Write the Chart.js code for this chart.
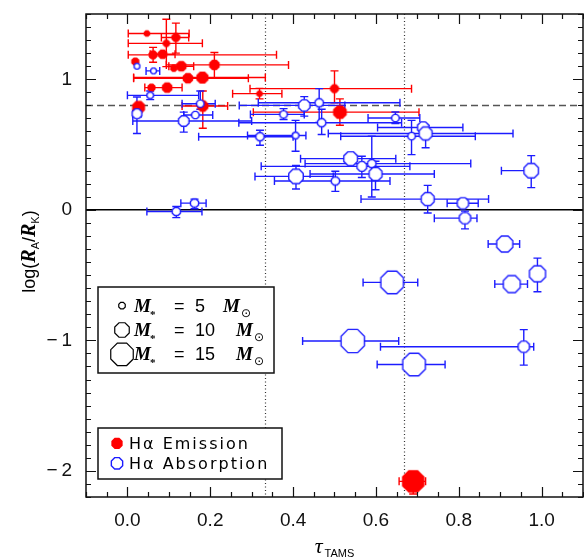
<!DOCTYPE html>
<html><head><meta charset="utf-8">
<script src="https://cdn.jsdelivr.net/npm/chart.js@4/dist/chart.umd.min.js"></script>
<style>html,body{margin:0;padding:0;background:#fff}#wrap{width:584px;height:558px}</style>
</head><body><div id="wrap"><canvas id="c" width="584" height="558"></canvas></div>
<script>
// ---- H-alpha emission stars ----
const emTau  = [0.047,0.117,0.094,0.062,0.085,0.019,0.112,0.130,0.210,0.146,0.181,0.058,0.096,0.027,0.182,0.319,0.500,0.513,0.690];
const emLogR = [1.351,1.320,1.275,1.187,1.192,1.136,1.085,1.100,1.110,1.008,1.013,0.936,0.936,0.785,0.795,0.890,0.928,0.748,-2.080];
const emMass = [5,6.5,5.5,6.5,7,6,5.5,7.5,7.5,7.5,8.5,6,7.5,9,8,5,6.5,9.5,15];
const emTauErrLo = [0.045,0.035,0.092,0.060,0.030,0,0,0.030,0.116,0.131,0.166,0,0.054,0,0.050,0.065,0.204,0.209,0.034];
const emTauErrHi = [0.102,0.031,0.087,0.298,0.030,0,0,0.030,0.179,0.146,0.152,0,0.036,0,0.060,0.054,0.186,0.191,0.030];
const emLogErrLo = [0,0.120,0.178,0.057,0,0,0,0,0.102,0,0,0,0,0,0.170,0.040,0.108,0.100,0.097];
const emLogErrHi = [0,0.110,0.185,0.057,0,0,0,0,0.095,0,0,0,0,0,0.115,0.040,0.136,0.102,0.050];

// ---- H-alpha absorption stars ----
const abTau  = [0.023,0.063,0.055,0.023,0.136,0.164,0.176,0.320,0.406,0.377,0.427,0.463,0.469,0.647,0.714,0.720,0.686,0.539,0.566,0.590,0.599,0.407,0.502,0.118,0.162,0.975,0.725,0.810,0.815,0.911,0.990,0.928,0.639,0.544,0.957,0.692];
const abLogR = [1.100,1.064,0.877,0.736,0.680,0.726,0.813,0.560,0.569,0.731,0.800,0.820,0.667,0.703,0.631,0.585,0.564,0.392,0.333,0.354,0.274,0.256,0.221,-0.013,0.051,0.300,0.082,0.050,-0.064,-0.262,-0.490,-0.569,-0.556,-1.005,-1.049,-1.185];
const abMass = [4.5,4.5,5,7,7.5,5.5,5.5,6,5,5.5,8,6,6,5.5,8,9,5.5,9.5,7,6,9,10,6,6,6,10,9,8,8,11,11,11.5,15,15.5,8,15];
const abTauErrLo = [0,0.018,0.055,0.010,0.123,0.028,0.044,0.148,0.116,0.080,0.157,0.147,0.200,0.066,0.110,0.235,0.171,0.121,0.243,0.161,0.158,0.099,0.147,0.071,0.033,0.072,0.161,0.038,0.074,0.040,0,0.041,0.070,0.121,0.346,0.089];
const abTauErrHi = [0,0.015,0.117,0.010,0.164,0.042,0.036,0.080,0.025,0.050,0.098,0.195,0.193,0.059,0.096,0.211,0.154,0.109,0.116,0.239,0.142,0.090,0.132,0.062,0.028,0,0.147,0.037,0.029,0.036,0,0.038,0.062,0.111,0.024,0.075];
const abLogErrLo = [0,0,0.033,0.151,0.085,0,0.043,0.065,0.120,0.039,0.082,0.150,0.090,0.043,0,0.110,0.141,0,0.085,0.256,0.120,0.097,0.080,0.047,0.043,0.130,0.107,0.030,0.082,0,0.138,0,0,0,0.141,0];
const abLogErrHi = [0,0,0.033,0.128,0.068,0,0.097,0.050,0.116,0.044,0.067,0.108,0.103,0.046,0,0.060,0.121,0,0.077,0.210,0.098,0.084,0.074,0.038,0.031,0.115,0.105,0.030,0.054,0,0.120,0,0,0,0.131,0];

// ---- axes / reference lines / legend ----
const xTickValues = [0, 0.2, 0.4, 0.6, 0.8, 1.0];
const xTickLabels = ['0.0','0.2','0.4','0.6','0.8','1.0'];
const yTickValues = [-2, -1, 0, 1];
const yTickLabels = ['\u2212\u20092','\u2212\u20091','0','1'];
const xMinorStep = 0.05, yMinorStep = 0.1;
const hLineSolid = 0;
const hLineDashed = 0.8;
const vLinesDotted = [1/3, 2/3];
const legendMasses = [5, 10, 15];
const legendMassLabels = ['5', '10', '15'];
const legendClassLabels = ['H\u03b1 Emission', 'H\u03b1 Absorption'];

const RED = '#ff0000', BLUE = '#1c1cff';
const PLOT_RIGHT = 583;
function massRadius(m){ return (1.6*m - 1.5) / 1.848; }

function octPath(g, cx, cy, r){
  g.beginPath();
  for (let k = 0; k < 8; k++){
    const a = Math.PI/8 + k*Math.PI/4;
    const px = cx + r*Math.cos(a), py = cy + r*Math.sin(a);
    if (k) g.lineTo(px, py); else g.moveTo(px, py);
  }
  g.closePath();
}
const octCache = {};
function octImage(r, stroke, fill, lw){
  const key = [r.toFixed(2), stroke, fill, lw].join('|');
  if (octCache[key]) return octCache[key];
  const pad = Math.ceil(lw) + 1;
  const size = Math.ceil(2*r + 2*pad);
  const c = document.createElement('canvas'); c.width = size; c.height = size;
  const g = c.getContext('2d');
  octPath(g, size/2, size/2, r);
  if (fill){ g.fillStyle = fill; g.fill(); }
  if (stroke){ g.strokeStyle = stroke; g.lineWidth = lw; g.stroke(); }
  octCache[key] = c; return c;
}

const emData = emTau.map((t,i) => ({x: t, y: emLogR[i]}));
const abData = abTau.map((t,i) => ({x: t, y: abLogR[i]}));

const decorPlugin = {
  id: 'decor',
  afterLayout(chart){
    const a = chart.chartArea, x = chart.scales.x;
    if (Math.abs(a.right - PLOT_RIGHT) > 0.01){
      a.right = PLOT_RIGHT; a.width = a.right - a.left;
      x.right = PLOT_RIGHT; x.width = x.right - x.left;
      x.configure();
    }
  },
  beforeDatasetsDraw(chart){
    const {ctx, chartArea: a, scales: {x, y}} = chart;
    ctx.save();
    ctx.strokeStyle = '#000'; ctx.lineWidth = 1.5;
    let py = y.getPixelForValue(hLineSolid);
    ctx.beginPath(); ctx.moveTo(a.left, py); ctx.lineTo(a.right, py); ctx.stroke();
    ctx.strokeStyle = '#555'; ctx.lineWidth = 1.5; ctx.setLineDash([7, 4]);
    py = y.getPixelForValue(hLineDashed);
    ctx.beginPath(); ctx.moveTo(a.left, py); ctx.lineTo(a.right, py); ctx.stroke();
    ctx.strokeStyle = '#333'; ctx.lineWidth = 1.2; ctx.setLineDash([1, 2.5]);
    vLinesDotted.forEach(v => {
      const px = Math.round(x.getPixelForValue(v)) + 0.5;
      ctx.beginPath(); ctx.moveTo(px, a.top); ctx.lineTo(px, a.bottom); ctx.stroke();
    });
    ctx.setLineDash([]);
    const sets = [
      {data: emData, xl: emTauErrLo, xh: emTauErrHi, yl: emLogErrLo, yh: emLogErrHi, col: RED},
      {data: abData, xl: abTauErrLo, xh: abTauErrHi, yl: abLogErrLo, yh: abLogErrHi, col: BLUE}
    ];
    const cap = 4;
    sets.forEach(s => {
      ctx.strokeStyle = s.col; ctx.lineWidth = 1.4;
      s.data.forEach((p, i) => {
        const px = x.getPixelForValue(p.x), pyy = y.getPixelForValue(p.y);
        ctx.beginPath();
        if (s.xl[i] > 0){ const e = x.getPixelForValue(p.x - s.xl[i]); ctx.moveTo(px, pyy); ctx.lineTo(e, pyy); ctx.moveTo(e, pyy-cap); ctx.lineTo(e, pyy+cap); }
        if (s.xh[i] > 0){ const e = x.getPixelForValue(p.x + s.xh[i]); ctx.moveTo(px, pyy); ctx.lineTo(e, pyy); ctx.moveTo(e, pyy-cap); ctx.lineTo(e, pyy+cap); }
        if (s.yl[i] > 0){ const e = y.getPixelForValue(p.y - s.yl[i]); ctx.moveTo(px, pyy); ctx.lineTo(px, e); ctx.moveTo(px-cap, e); ctx.lineTo(px+cap, e); }
        if (s.yh[i] > 0){ const e = y.getPixelForValue(p.y + s.yh[i]); ctx.moveTo(px, pyy); ctx.lineTo(px, e); ctx.moveTo(px-cap, e); ctx.lineTo(px+cap, e); }
        ctx.stroke();
      });
    });
    ctx.restore();
  },
  afterDraw(chart){
    const {ctx, chartArea: a, scales: {x, y}} = chart;
    ctx.save();
    ctx.strokeStyle = '#111'; ctx.lineWidth = 1.5;
    ctx.strokeRect(a.left, a.top, a.right - a.left, a.bottom - a.top);
    ctx.lineWidth = 1.2;
    ctx.beginPath();
    const isMajor = (v, arr) => arr.some(t => Math.abs(t - v) < 1e-6);
    for (let v = Math.ceil(x.min/xMinorStep)*xMinorStep; v <= x.max + 1e-9; v += xMinorStep){
      const vv = Math.round(v*1000)/1000;
      const px = Math.round(x.getPixelForValue(vv)) + 0.5;
      const L = isMajor(vv, xTickValues) ? 10 : 5;
      ctx.moveTo(px, a.bottom); ctx.lineTo(px, a.bottom - L);
      ctx.moveTo(px, a.top); ctx.lineTo(px, a.top + L);
    }
    for (let v = Math.ceil(y.min/yMinorStep)*yMinorStep; v <= y.max + 1e-9; v += yMinorStep){
      const vv = Math.round(v*1000)/1000;
      const py = Math.round(y.getPixelForValue(vv)) + 0.5;
      const L = isMajor(vv, yTickValues) ? 10 : 5;
      ctx.moveTo(a.left, py); ctx.lineTo(a.left + L, py);
      ctx.moveTo(a.right, py); ctx.lineTo(a.right - L, py);
    }
    ctx.stroke();

    ctx.fillStyle = '#000'; ctx.textBaseline = 'alphabetic';
    const xc = (a.left + a.right)/2;
    ctx.font = 'italic 22px "Liberation Serif"';
    const wt = ctx.measureText('\u03c4').width;
    ctx.font = '11px "Liberation Sans"';
    const ws = ctx.measureText('TAMS').width;
    let sx = xc - (wt + 2 + ws)/2;
    ctx.font = 'italic 22px "Liberation Serif"'; ctx.fillText('\u03c4', sx, 553);
    ctx.font = '11px "Liberation Sans"'; ctx.fillText('TAMS', sx + wt + 2, 557);
    const parts = [
      {t:'log(', f:'18px "Liberation Sans"', dy:0},
      {t:'R', f:'bold italic 20px "Liberation Serif"', dy:0},
      {t:'A', f:'11px "Liberation Sans"', dy:4},
      {t:'/', f:'18px "Liberation Sans"', dy:0},
      {t:'R', f:'bold italic 20px "Liberation Serif"', dy:0},
      {t:'K', f:'11px "Liberation Sans"', dy:4},
      {t:')', f:'18px "Liberation Sans"', dy:0}
    ];
    let tw = 0; parts.forEach(p => { ctx.font = p.f; p.w = ctx.measureText(p.t).width; tw += p.w; });
    ctx.save();
    ctx.translate(35, (a.top + a.bottom)/2 - 4);
    ctx.rotate(-Math.PI/2);
    let cx = -tw/2;
    parts.forEach(p => { ctx.font = p.f; ctx.fillText(p.t, cx, p.dy); cx += p.w; });
    ctx.restore();

    ctx.fillStyle = '#fff'; ctx.strokeStyle = '#111'; ctx.lineWidth = 1.5;
    ctx.fillRect(98, 287, 176, 86); ctx.strokeRect(98, 287, 176, 86);
    const rowsY = [305.7, 330, 354.3];
    legendMasses.forEach((m, i) => {
      const yy = rowsY[i];
      octPath(ctx, 122, yy, massRadius(m));
      ctx.strokeStyle = '#000'; ctx.lineWidth = 1.2; ctx.stroke();
      ctx.fillStyle = '#000';
      ctx.font = 'bold italic 19px "Liberation Serif"';
      ctx.fillText('M', 134, yy + 6);
      ctx.font = 'bold 11px "Liberation Serif"';
      ctx.fillText('*', 150, yy + 12);
      ctx.font = '18px "Liberation Sans"';
      ctx.fillText('=', 174, yy + 6);
      ctx.fillText(legendMassLabels[i], 195, yy + 6);
      const mx = legendMassLabels[i].length > 1 ? 236 : 223;
      ctx.font = 'bold italic 19px "Liberation Serif"';
      ctx.fillText('M', mx, yy + 6);
      ctx.font = '12px "DejaVu Sans"';
      ctx.fillText('\u2299', mx + 18, yy + 11);
    });

    ctx.fillStyle = '#fff'; ctx.strokeStyle = '#111'; ctx.lineWidth = 1.5;
    ctx.fillRect(98, 428, 184, 51); ctx.strokeRect(98, 428, 184, 51);
    const r2 = massRadius(8);
    octPath(ctx, 117, 443.3, r2); ctx.fillStyle = RED; ctx.fill();
    octPath(ctx, 117, 463.3, r2); ctx.strokeStyle = BLUE; ctx.lineWidth = 1.4; ctx.stroke();
    ctx.fillStyle = '#000'; ctx.font = '16px "DejaVu Sans"';
    try { ctx.letterSpacing = '2px'; } catch(e) {}
    ctx.fillText(legendClassLabels[0], 129, 449);
    ctx.fillText(legendClassLabels[1], 129, 469);
    try { ctx.letterSpacing = '0px'; } catch(e) {}
    ctx.restore();
  }
};

new Chart(document.getElementById('c'), {
  type: 'scatter',
  data: {
    datasets: [
      {
        label: legendClassLabels[0], data: emData, order: 2,
        pointRadius: c => c.dataIndex === undefined ? 3 : massRadius(emMass[c.dataIndex]),
        pointStyle: c => octImage(c.dataIndex === undefined ? 5 : massRadius(emMass[c.dataIndex]), null, RED, 1)
      },
      {
        label: legendClassLabels[1], data: abData, order: 1,
        pointRadius: c => c.dataIndex === undefined ? 3 : massRadius(abMass[c.dataIndex]),
        pointStyle: c => octImage(c.dataIndex === undefined ? 5 : massRadius(abMass[c.dataIndex]), BLUE, '#fff', 1.4)
      }
    ]
  },
  options: {
    responsive: false, animation: false, events: [], devicePixelRatio: 1,
    layout: { padding: { top: 14, right: 1, left: 0, bottom: 0 } },
    plugins: { legend: { display: false }, tooltip: { enabled: false } },
    scales: {
      x: {
        type: 'linear', min: -0.1, max: 1.1,
        grid: { display: false, drawTicks: false }, border: { display: false },
        afterBuildTicks: s => { s.ticks = xTickValues.map(v => ({ value: v })); },
        afterFit: s => { s.height = 61; s.paddingLeft = 0; s.paddingRight = 0; s.paddingTop = 0; s.paddingBottom = 0; },
        ticks: { padding: 12, color: '#111', font: { family: '"Liberation Sans"', size: 19 },
          callback: (v) => { const i = xTickValues.findIndex(t => Math.abs(t - v) < 1e-6); return i >= 0 ? xTickLabels[i] : ''; } }
      },
      y: {
        type: 'linear', min: -2.2, max: 1.5,
        grid: { display: false, drawTicks: false }, border: { display: false },
        afterBuildTicks: s => { s.ticks = yTickValues.map(v => ({ value: v })); },
        afterFit: s => { s.width = 86; s.paddingLeft = 0; s.paddingRight = 0; s.paddingTop = 0; s.paddingBottom = 0; },
        ticks: { padding: 14, color: '#111', font: { family: '"Liberation Sans"', size: 19 },
          callback: (v) => { const i = yTickValues.findIndex(t => Math.abs(t - v) < 1e-6); return i >= 0 ? yTickLabels[i] : ''; } }
      }
    }
  },
  plugins: [decorPlugin]
});
</script></body></html>
